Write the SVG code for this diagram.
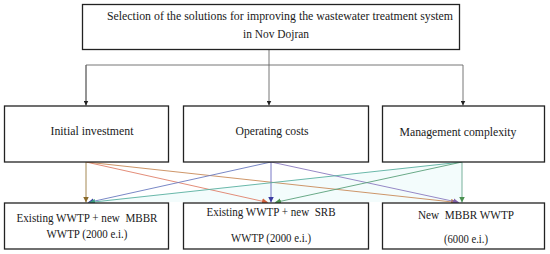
<svg xmlns="http://www.w3.org/2000/svg" width="550" height="254" viewBox="0 0 550 254">
<defs>
<style>
.box{fill:#fff;stroke:#222;stroke-width:1.3}
.t{font-family:"Liberation Serif","Times New Roman",serif;font-size:11.5px;fill:#1a1a1a;text-anchor:middle;white-space:pre}
.c{fill:none;stroke-width:0.9}
.g{stroke:#666}
</style>
<marker id="mk" viewBox="0 0 10 10" refX="10" refY="5" markerWidth="5" markerHeight="5" orient="auto" markerUnits="userSpaceOnUse"><path d="M0,0L10,5L0,10z" fill="#222"/></marker>
<marker id="mbr" viewBox="0 0 10 10" refX="10" refY="5" markerWidth="6" markerHeight="6" orient="auto" markerUnits="userSpaceOnUse"><path d="M0,0L10,5L0,10z" fill="#8a6a2a"/></marker>
<marker id="mrd" viewBox="0 0 10 10" refX="10" refY="5" markerWidth="6" markerHeight="6" orient="auto" markerUnits="userSpaceOnUse"><path d="M0,0L10,5L0,10z" fill="#d0603a"/></marker>
<marker id="mor" viewBox="0 0 10 10" refX="10" refY="5" markerWidth="6" markerHeight="6" orient="auto" markerUnits="userSpaceOnUse"><path d="M0,0L10,5L0,10z" fill="#b8703a"/></marker>
<marker id="mbl" viewBox="0 0 10 10" refX="10" refY="5" markerWidth="6" markerHeight="6" orient="auto" markerUnits="userSpaceOnUse"><path d="M0,0L10,5L0,10z" fill="#3a3aa0"/></marker>
<marker id="mpu" viewBox="0 0 10 10" refX="10" refY="5" markerWidth="6" markerHeight="6" orient="auto" markerUnits="userSpaceOnUse"><path d="M0,0L10,5L0,10z" fill="#8060a8"/></marker>
<marker id="mgr" viewBox="0 0 10 10" refX="10" refY="5" markerWidth="6" markerHeight="6" orient="auto" markerUnits="userSpaceOnUse"><path d="M0,0L10,5L0,10z" fill="#4a9050"/></marker>
<marker id="mte" viewBox="0 0 10 10" refX="10" refY="5" markerWidth="6" markerHeight="6" orient="auto" markerUnits="userSpaceOnUse"><path d="M0,0L10,5L0,10z" fill="#3a9a80"/></marker>
</defs>
<rect width="550" height="254" fill="#fff"/>
<polygon points="462,162 86,202 462,202" fill="#f3fcfc"/>
<g id="connectors">
<path class="c g" d="M269,49V105.5" marker-end="url(#mk)"/>
<path class="c g" d="M86,105.5V65H463V105.5" marker-end="url(#mk)"/>
<path class="c g" d="M86,65V105.5" marker-end="url(#mk)"/>
<line class="c" x1="86" y1="162" x2="86" y2="202.5" stroke="#9a7a40" marker-end="url(#mbr)"/>
<line class="c" x1="86" y1="162" x2="268" y2="202.5" stroke="#e0806a" marker-end="url(#mrd)"/>
<line class="c" x1="86" y1="162" x2="457" y2="202.5" stroke="#c88a58" marker-end="url(#mor)"/>
<line class="c" x1="271" y1="162" x2="88" y2="202.5" stroke="#6a7ac0" marker-end="url(#mbl)"/>
<line class="c" x1="271" y1="162" x2="271" y2="202.5" stroke="#6a6ac0" marker-end="url(#mbl)"/>
<line class="c" x1="271" y1="162" x2="459" y2="202.5" stroke="#8a7ac0" marker-end="url(#mpu)"/>
<line class="c" x1="462" y1="162" x2="89" y2="202.5" stroke="#5ab0a0" marker-end="url(#mte)"/>
<line class="c" x1="462" y1="162" x2="275" y2="202.5" stroke="#5aa07a" marker-end="url(#mgr)"/>
<line class="c" x1="462" y1="162" x2="462" y2="202.5" stroke="#6aa890" marker-end="url(#mgr)"/>
</g>
<g id="top">
<rect class="box" x="82.5" y="4.5" width="377" height="45"/>
<text class="t" x="280" y="20" textLength="346" lengthAdjust="spacingAndGlyphs">Selection of the solutions for improving the wastewater treatment system</text>
<text class="t" x="276" y="38" textLength="66" lengthAdjust="spacingAndGlyphs">in Nov Dojran</text>
</g>
<g id="initial">
<rect class="box" x="4.5" y="106" width="164" height="56"/>
<text class="t" x="92" y="135" textLength="83" lengthAdjust="spacingAndGlyphs">Initial investment</text>
</g>
<g id="operating">
<rect class="box" x="183.5" y="106" width="185" height="56"/>
<text class="t" x="272" y="135" textLength="73" lengthAdjust="spacingAndGlyphs">Operating costs</text>
</g>
<g id="management">
<rect class="box" x="382.5" y="106" width="162" height="56"/>
<text class="t" x="458" y="136" textLength="117" lengthAdjust="spacingAndGlyphs">Management complexity</text>
</g>
<g id="mbbr-existing">
<rect class="box" x="4.5" y="203" width="164" height="46"/>
<text class="t" x="87" y="222" textLength="141" lengthAdjust="spacingAndGlyphs">Existing WWTP + new  MBBR</text>
<text class="t" x="87" y="238" textLength="81" lengthAdjust="spacingAndGlyphs">WWTP (2000 e.i.)</text>
</g>
<g id="srb-existing">
<rect class="box" x="183.5" y="203" width="185" height="46"/>
<text class="t" x="271" y="216" textLength="129" lengthAdjust="spacingAndGlyphs">Existing WWTP + new  SRB</text>
<text class="t" x="271" y="242" textLength="80" lengthAdjust="spacingAndGlyphs">WWTP (2000 e.i.)</text>
</g>
<g id="mbbr-new">
<rect class="box" x="382.5" y="203" width="162" height="46"/>
<text class="t" x="466" y="219" textLength="96" lengthAdjust="spacingAndGlyphs">New  MBBR WWTP</text>
<text class="t" x="466" y="243" textLength="44" lengthAdjust="spacingAndGlyphs">(6000 e.i.)</text>
</g>
</svg>
